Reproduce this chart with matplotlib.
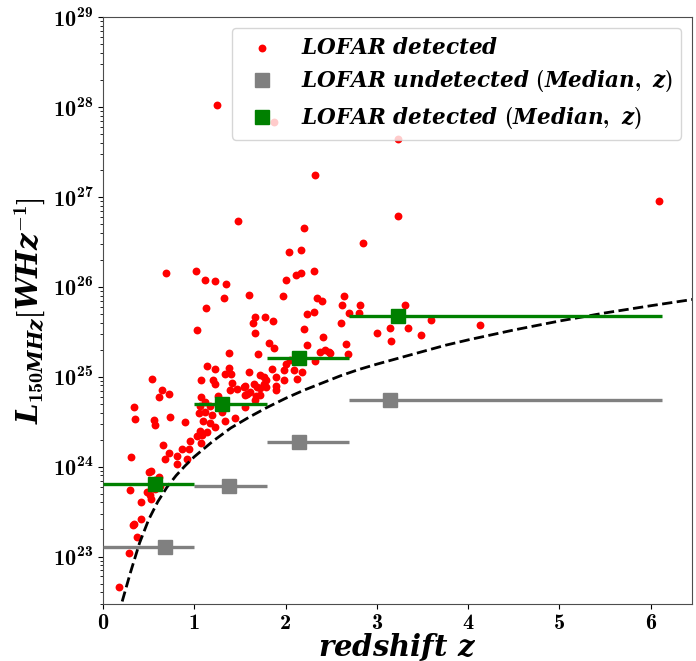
import numpy as np
import matplotlib
matplotlib.use("Agg")
import matplotlib.pyplot as plt

plt.rcParams["font.family"] = "cmb10"
plt.rcParams["mathtext.fontset"] = "custom"
plt.rcParams["mathtext.it"] = "DejaVu Serif:italic:bold"
plt.rcParams["mathtext.rm"] = "cmb10"
plt.rcParams["mathtext.bf"] = "cmb10"
plt.rcParams["axes.unicode_minus"] = False

# LOFAR detected sources: redshift and log10 L_150MHz
z_det = [1.25, 1.87, 2.32, 1.48, 2.20, 2.04, 2.17, 2.85, 3.23, 3.23, 6.09, 2.64,
         2.62, 2.81, 2.69, 2.80, 3.31, 2.61, 3.59, 4.13, 3.00, 3.14, 3.34, 3.15,
         3.48, 2.66, 2.68, 2.49, 2.01, 2.11, 2.17, 2.31, 1.60, 1.97, 2.34, 2.40,
         1.67, 1.64, 1.77, 1.86, 2.23, 2.31, 1.67, 2.20, 1.82, 1.87, 1.70, 2.23,
         2.41, 2.38, 2.43, 2.48, 2.32, 2.00, 2.05, 1.98, 2.18, 2.12, 1.60, 1.85,
         1.90, 1.78, 1.72, 1.56, 1.65, 1.89, 1.72, 1.58, 1.03, 1.38, 1.14, 1.23,
         1.38, 1.34, 1.40, 1.07, 1.21, 1.23, 1.41, 1.76, 1.39, 1.47, 1.55, 1.61,
         1.69, 1.67, 0.54, 0.65, 0.72, 0.61, 1.07, 1.26, 1.12, 1.17, 1.06, 1.05,
         1.12, 1.19, 1.30, 1.34, 1.45, 1.10, 1.17, 1.23, 1.06, 1.14, 1.08, 0.73,
         0.56, 0.57, 0.90, 0.95, 1.07, 1.03, 0.86, 0.94, 0.66, 0.72, 0.81, 0.68,
         0.92, 0.81, 0.31, 0.53, 0.61, 0.57, 0.30, 0.48, 0.52, 0.42, 0.53, 0.42,
         0.34, 0.33, 0.37, 0.29, 0.18, 0.69, 1.02, 1.12, 1.23, 1.35, 1.32, 1.13,
         0.34, 0.35, 1.56, 1.90, 0.50, 0.57, 0.625, 1.54, 1.72, 1.68, 1.79, 1.76,
         2.09, 1.98]
logL_det = [28.02, 27.83, 27.24, 26.73, 26.66, 26.39, 26.41, 26.49, 27.65, 26.79, 26.95, 25.90,
            25.80, 25.80, 25.71, 25.71, 25.80, 25.60, 25.63, 25.58, 25.49, 25.54, 25.54, 25.40,
            25.46, 25.36, 25.25, 25.26, 26.08, 26.13, 26.15, 26.18, 25.91, 25.90, 25.88, 25.84,
            25.66, 25.60, 25.67, 25.62, 25.70, 25.72, 25.49, 25.53, 25.37, 25.32, 25.25, 25.35,
            25.44, 25.27, 25.30, 25.27, 25.18, 25.14, 25.19, 25.07, 25.05, 24.98, 25.05, 25.09,
            25.00, 24.96, 25.02, 24.90, 24.92, 24.90, 24.80, 24.81, 25.52, 25.26, 25.12, 25.09,
            25.10, 25.03, 25.03, 24.96, 24.96, 24.92, 24.93, 24.92, 24.85, 24.86, 24.80, 24.83,
            24.89, 24.74, 24.98, 24.85, 24.81, 24.77, 24.78, 24.79, 24.72, 24.68, 24.67, 24.60,
            24.61, 24.57, 24.61, 24.51, 24.54, 24.51, 24.48, 24.44, 24.40, 24.38, 24.35, 24.55,
            24.52, 24.46, 24.50, 24.29, 24.26, 24.34, 24.20, 24.20, 24.24, 24.15, 24.12, 24.09,
            24.09, 24.03, 24.11, 23.95, 23.88, 23.85, 23.74, 23.72, 23.68, 23.61, 23.64, 23.42,
            23.36, 23.35, 23.22, 23.04, 22.66, 26.15, 26.18, 26.08, 26.06, 26.03, 25.88, 25.77,
            24.66, 24.53, 24.66, 24.85, 23.94, 23.75, 23.79, 24.89, 24.87, 24.79, 24.89, 25.00,
            25.07, 24.96]

# redshift bins and medians
bin_lo = [0.0, 1.0, 1.8, 2.7]
bin_hi = [1.0, 1.8, 2.7, 6.12]
z_med_undet = [0.68, 1.38, 2.15, 3.14]
logL_med_undet = [23.11, 23.78, 24.27, 24.74]
z_med_det = [0.57, 1.30, 2.15, 3.23]
logL_med_det = [23.81, 24.70, 25.21, 25.68]

# detection limit curve
z_lim = [0.21, 0.30, 0.40, 0.50, 0.60, 0.70, 0.80, 0.90, 1.00, 1.20, 1.40, 1.60,
         1.80, 2.00, 2.20, 2.40, 2.60, 2.80, 3.00, 3.25, 3.50, 3.75, 4.00, 4.50,
         5.00, 5.50, 6.00, 6.46]
logL_lim = [22.50, 22.82, 23.15, 23.41, 23.61, 23.77, 23.90, 24.01, 24.11, 24.28, 24.43, 24.55,
            24.66, 24.76, 24.85, 24.93, 25.01, 25.08, 25.14, 25.21, 25.28, 25.35, 25.41, 25.52,
            25.62, 25.71, 25.79, 25.86]

fig = plt.figure(figsize=(6.96, 6.61), dpi=100)
ax = fig.add_axes([0.148, 0.086, 0.846, 0.888])

ax.scatter(z_det, 10 ** np.array(logL_det), s=32, color="red", linewidths=0,
           label=r"$LOFAR\ detected$", zorder=2)
ax.plot(z_lim, 10 ** np.array(logL_lim), "k--", lw=2, zorder=3)

zu = np.array(z_med_undet)
ax.errorbar(zu, 10 ** np.array(logL_med_undet),
            xerr=[zu - np.array(bin_lo), np.array(bin_hi) - zu],
            fmt="none", ecolor="gray", elinewidth=2.4, capsize=0, zorder=4)
ax.plot(zu, 10 ** np.array(logL_med_undet), "s", color="gray", ms=9.5,
        label=r"$LOFAR\ undetected\ (Median,\ z)$", zorder=5)

zd = np.array(z_med_det)
ax.errorbar(zd, 10 ** np.array(logL_med_det),
            xerr=[zd - np.array(bin_lo), np.array(bin_hi) - zd],
            fmt="none", ecolor="green", elinewidth=2.4, capsize=0, zorder=4)
ax.plot(zd, 10 ** np.array(logL_med_det), "s", color="green", ms=9.5,
        label=r"$LOFAR\ detected\ (Median,\ z)$", zorder=5)

ax.set_yscale("log")
ax.set_xlim(0, 6.45)
ax.set_ylim(10 ** 22.47, 1e29)
ax.set_xticks([0, 1, 2, 3, 4, 5, 6])
ax.tick_params(labelsize=16)
for s in ax.spines.values():
    s.set_color("0.3")

ax.set_xlabel(r"$redshift\ z$", fontsize=21, labelpad=-1)
ax.set_ylabel(r"$L_{150MHz}[W Hz^{-1}]$", fontsize=21, labelpad=4)

ax.legend(loc="upper right", fontsize=15.5)

fig.savefig("out.png", dpi=100)
